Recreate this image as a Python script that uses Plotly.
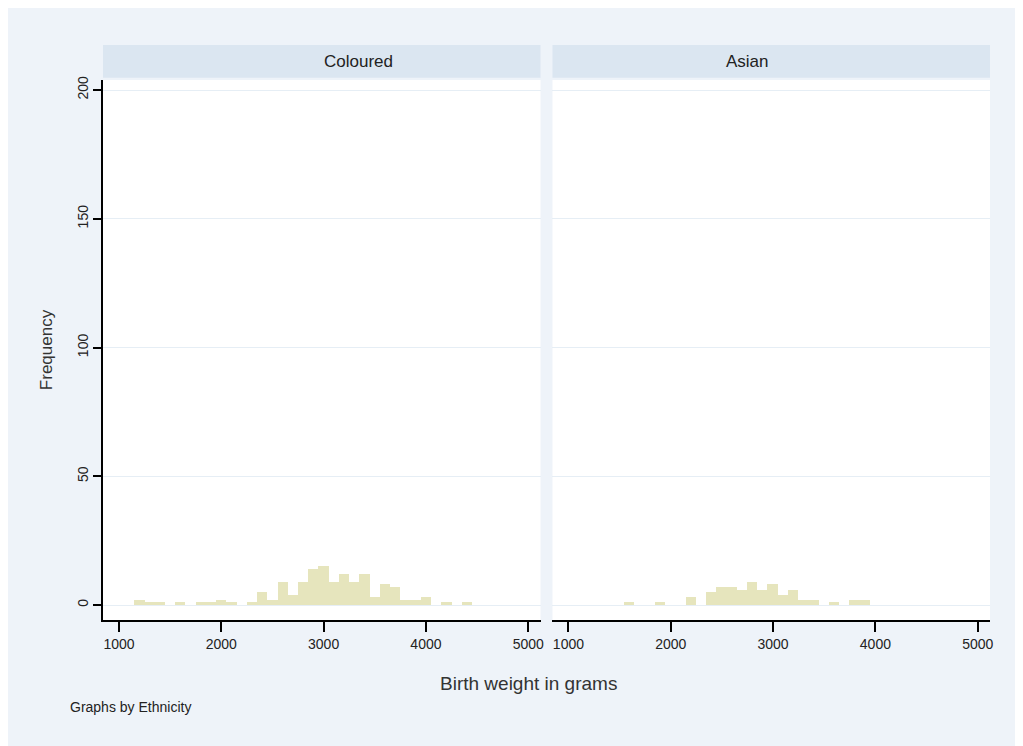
import plotly.graph_objects as go
from plotly.subplots import make_subplots

panels = ["Coloured", "Asian"]

coloured_bins = [1200, 1300, 1400, 1600, 1800, 1900, 2000, 2100, 2300, 2400, 2500, 2600,
                 2700, 2800, 2900, 3000, 3100, 3200, 3300, 3400, 3500, 3600, 3700, 3800,
                 3900, 4000, 4200, 4400]
coloured_freq = [2, 1, 1, 1, 1, 1, 2, 1, 1, 5, 2, 9,
                 4, 9, 14, 15, 9, 12, 9, 12, 3, 8, 7, 2,
                 2, 3, 1, 1]

asian_bins = [1600, 1900, 2200, 2400, 2500, 2600, 2700, 2800, 2900, 3000, 3100, 3200,
              3300, 3400, 3600, 3800, 3900]
asian_freq = [1, 1, 3, 5, 7, 7, 6, 9, 6, 8, 4, 6,
              2, 2, 1, 2, 2]

x_ticks = [1000, 2000, 3000, 4000, 5000]
x_tick_labels_left = ["1000", "2000", "3000", "4000", "5000"]
x_tick_labels_right = ["1000", "2000", "3000", "4000", "5000"]
y_ticks = [0, 50, 100, 150, 200]

BAR = "#e6e5bd"
BG = "#eef3f9"
STRIP = "#dbe6f1"
FONT = "Liberation Sans Narrow, Liberation Sans, Arial"

fig = make_subplots(rows=1, cols=2, shared_yaxes=True, horizontal_spacing=0.0135)

fig.add_trace(go.Bar(x=coloured_bins, y=coloured_freq, width=100, marker_color=BAR,
                     marker_line_width=0, showlegend=False), row=1, col=1)
fig.add_trace(go.Bar(x=asian_bins, y=asian_freq, width=100, marker_color=BAR,
                     marker_line_width=0, showlegend=False), row=1, col=2)

for i, labels in enumerate([x_tick_labels_left, x_tick_labels_right], start=1):
    fig.update_xaxes(range=[844, 5120], tickvals=x_ticks, ticktext=labels,
                     showline=True, linecolor="black", linewidth=1.5,
                     ticks="outside", ticklen=10, tickwidth=1.5, tickcolor="black",
                     showgrid=False, zeroline=False,
                     tickfont=dict(family=FONT, size=14, color="#222"),
                     row=1, col=i)

fig.update_yaxes(range=[-5.8, 203.9], tickvals=y_ticks, showgrid=True,
                 gridcolor="#e6eef5", gridwidth=1, zeroline=False)
fig.update_yaxes(showline=True, linecolor="black", linewidth=1.5,
                 ticks="outside", ticklen=8, tickwidth=1.5, tickcolor="black",
                 tickangle=-90, tickfont=dict(family=FONT, size=14, color="#222"),
                 title=dict(text="Frequency", font=dict(family="Liberation Sans, Arial", size=17, color="#333"),
                            standoff=18),
                 row=1, col=1)
fig.update_yaxes(showline=False, ticks="", row=1, col=2)

fig.update_layout(
    width=1023, height=746,
    margin=dict(l=95, r=41, t=72, b=134),
    paper_bgcolor=BG, plot_bgcolor="white",
    bargap=0, font=dict(family=FONT),
)

doms = [fig.layout.xaxis.domain, fig.layout.xaxis2.domain]
for name, d in zip(panels, doms):
    fig.add_shape(type="rect", xref="paper", yref="paper", x0=d[0], x1=d[1],
                  y0=1.004, y1=1.065, fillcolor=STRIP, line_width=0, layer="below")
    fig.add_annotation(text=name, xref="paper", yref="paper", x=(d[0] + d[1]) / 2,
                       y=1.0345, showarrow=False, yanchor="middle",
                       font=dict(family=FONT, size=17, color="#222"))

fig.add_annotation(text="Birth weight in grams", xref="paper", yref="paper",
                   x=0.48, y=-0.117, showarrow=False, yanchor="middle",
                   font=dict(family=FONT, size=19, color="#333"))
fig.add_annotation(text="Graphs by Ethnicity", xref="paper", yref="paper",
                   x=-0.04, xanchor="left", y=-0.162, showarrow=False, yanchor="middle",
                   font=dict(family=FONT, size=14, color="#222"))

fig.write_html("out.html")
